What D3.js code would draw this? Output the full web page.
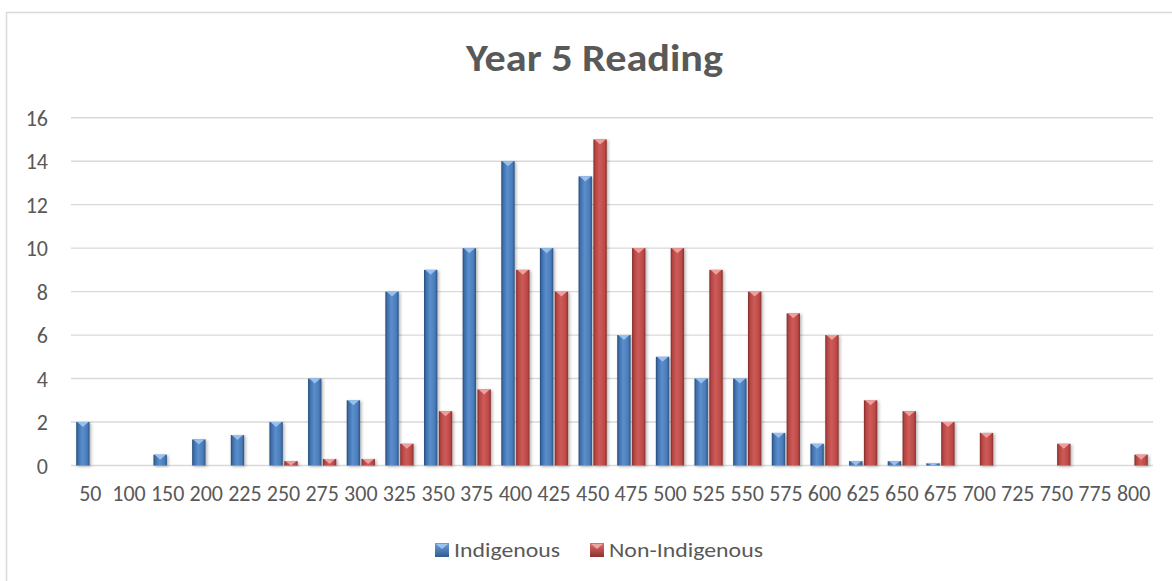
<!DOCTYPE html>
<html>
<head>
<meta charset="utf-8">
<script src="https://cdn.jsdelivr.net/npm/d3@7"></script>
<style>
  html, body { margin: 0; padding: 0; background: #ffffff; }
  svg { display: block; }
  text { font-family: Carlito, "Open Sans", sans-serif; fill: #595959; }
</style>
</head>
<body>
<svg id="chart" width="1172" height="581"></svg>
<script>
// Score bands (x axis categories)
const categories = ["50","100","150","200","225","250","275","300","325","350","375","400","425","450",
  "475","500","525","550","575","600","625","650","675","700","725","750","775","800"];

// Percentage of students in each band
const indigenous    = [2, 0, 0.5, 1.2, 1.4, 2, 4, 3, 8, 9, 10, 14, 10, 13.3,
  6, 5, 4, 4, 1.5, 1, 0.2, 0.2, 0.1, 0, 0, 0, 0, 0];
const nonIndigenous = [0, 0, 0, 0, 0, 0.2, 0.3, 0.3, 1, 2.5, 3.5, 9, 8, 15,
  10, 10, 9, 8, 7, 6, 3, 2.5, 2, 1.5, 0, 1, 0, 0.5];

const seriesNames = ["Indigenous", "Non-Indigenous"];
const yTicks = [0, 2, 4, 6, 8, 10, 12, 14, 16];
const title = "Year 5 Reading";

const svg = d3.select("#chart");
const W = 1172, H = 581;
const plot = { left: 71, right: 1153, top: 117.7, bottom: 465.5 };
const FONT = 'Carlito, "Open Sans", sans-serif';

// Chart frame
svg.append("rect")
  .attr("x", 6.5).attr("y", 12.5)
  .attr("width", W + 20).attr("height", H + 20)
  .attr("fill", "none").attr("stroke", "#d9d9d9").attr("stroke-width", 1.5);

const defs = svg.append("defs");
const palette = {
  "Indigenous":     { stops: ["#24497a", "#3f70ab", "#5b8ecc", "#4a7cb9", "#2a5285"], cap: "#9cc3ef", legendTop: "#6f9fd8", legendBot: "#2f5d93" },
  "Non-Indigenous": { stops: ["#7e2a28", "#b54643", "#cd5b58", "#bd4a47", "#8a302d"], cap: "#f0a3a1", legendTop: "#dc6f6c", legendBot: "#8e312e" }
};
seriesNames.forEach((s, i) => {
  const g = defs.append("linearGradient").attr("id", "grad" + i)
    .attr("x1", "0%").attr("x2", "100%").attr("y1", "0%").attr("y2", "0%");
  [0, 0.15, 0.45, 0.82, 1].forEach((o, k) =>
    g.append("stop").attr("offset", o).attr("stop-color", palette[s].stops[k]));
  const lg = defs.append("linearGradient").attr("id", "lgrad" + i)
    .attr("x1", "0%").attr("x2", "0%").attr("y1", "0%").attr("y2", "100%");
  lg.append("stop").attr("offset", 0).attr("stop-color", palette[s].legendTop);
  lg.append("stop").attr("offset", 1).attr("stop-color", palette[s].legendBot);
});
const shadow = defs.append("filter").attr("id", "shadow")
  .attr("x", "-50%").attr("y", "-20%").attr("width", "200%").attr("height", "140%");
shadow.append("feDropShadow").attr("dx", 1.5).attr("dy", 1).attr("stdDeviation", 1.6)
  .attr("flood-color", "#000").attr("flood-opacity", 0.3);

// Scales
const x0 = d3.scaleBand().domain(categories).range([plot.left, plot.right])
  .paddingInner(0.27).paddingOuter(0.135);
const x1 = d3.scaleBand().domain(seriesNames).range([0, x0.bandwidth()])
  .paddingInner(0.1).paddingOuter(0);
const y = d3.scaleLinear().domain([0, 16]).range([plot.bottom, plot.top]);

// Gridlines
svg.append("g").selectAll("line").data(yTicks).join("line")
  .attr("x1", plot.left).attr("x2", plot.right)
  .attr("y1", d => y(d)).attr("y2", d => y(d))
  .attr("stroke", "#d9d9d9").attr("stroke-width", 1.4);

// Y axis labels
const yAxis = svg.append("g").attr("transform", `translate(${plot.left - 23},0)`)
  .call(d3.axisLeft(y).tickValues(yTicks).tickSize(0).tickPadding(0));
yAxis.select(".domain").remove();
yAxis.selectAll("text").attr("font-size", 22).attr("dy", "0.35em")
  .style("font-family", FONT).attr("fill", "#595959");

// X axis labels
const xAxis = svg.append("g").attr("transform", `translate(0,${plot.bottom})`)
  .call(d3.axisBottom(x0).tickSize(0).tickPadding(28));
xAxis.select(".domain").remove();
xAxis.selectAll("text").attr("font-size", 22).attr("dy", "0.35em")
  .style("font-family", FONT).attr("fill", "#595959");

// Bars
const rows = categories.map((c, i) => ({ cat: c, values: [indigenous[i], nonIndigenous[i]] }));
const groups = svg.append("g").selectAll("g").data(rows).join("g")
  .attr("transform", d => `translate(${x0(d.cat)},0)`);

const bars = groups.selectAll("g.bar")
  .data(d => d.values.map((v, k) => ({ v, k })).filter(e => e.v > 0))
  .join("g").attr("class", "bar");

bars.append("rect")
  .attr("x", d => x1(seriesNames[d.k]))
  .attr("y", d => y(d.v))
  .attr("width", x1.bandwidth())
  .attr("height", d => y(0) - y(d.v))
  .attr("fill", d => `url(#grad${d.k})`)
  .attr("filter", "url(#shadow)");

// Bevelled cap on each bar
bars.append("path")
  .attr("d", d => {
    const xl = x1(seriesNames[d.k]) + 1, xr = x1(seriesNames[d.k]) + x1.bandwidth() - 1;
    const top = y(d.v);
    const h = Math.min(5, y(0) - y(d.v));
    const inset = x1.bandwidth() * 0.22;
    return `M${xl},${top}L${xr},${top}L${xr - inset},${top + h * 0.5}L${(xl + xr) / 2},${top + h}L${xl + inset},${top + h * 0.5}Z`;
  })
  .attr("fill", d => palette[seriesNames[d.k]].cap)
  .attr("opacity", 0.95);

// Title
svg.append("text")
  .attr("x", 594.5).attr("y", 71)
  .attr("text-anchor", "middle")
  .attr("font-size", 38).attr("font-weight", "bold")
  .attr("textLength", 257).attr("lengthAdjust", "spacingAndGlyphs")
  .text(title);

// Legend
const legendItems = [
  { name: seriesNames[0], x: 435, tx: 454, w: 106 },
  { name: seriesNames[1], x: 590, tx: 609, w: 154 }
];
const legend = svg.append("g");
legendItems.forEach((it, i) => {
  legend.append("rect").attr("x", it.x).attr("y", 543).attr("width", 14).attr("height", 14)
    .attr("fill", `url(#lgrad${i})`);
  legend.append("path")
    .attr("d", `M${it.x + 1},544L${it.x + 13},544L${it.x + 7},549Z`)
    .attr("fill", palette[it.name].cap);
  legend.append("text").attr("x", it.tx).attr("y", 550).attr("dy", "0.35em")
    .attr("font-size", 21)
    .attr("textLength", it.w).attr("lengthAdjust", "spacingAndGlyphs")
    .text(it.name);
});
</script>
</body>
</html>
